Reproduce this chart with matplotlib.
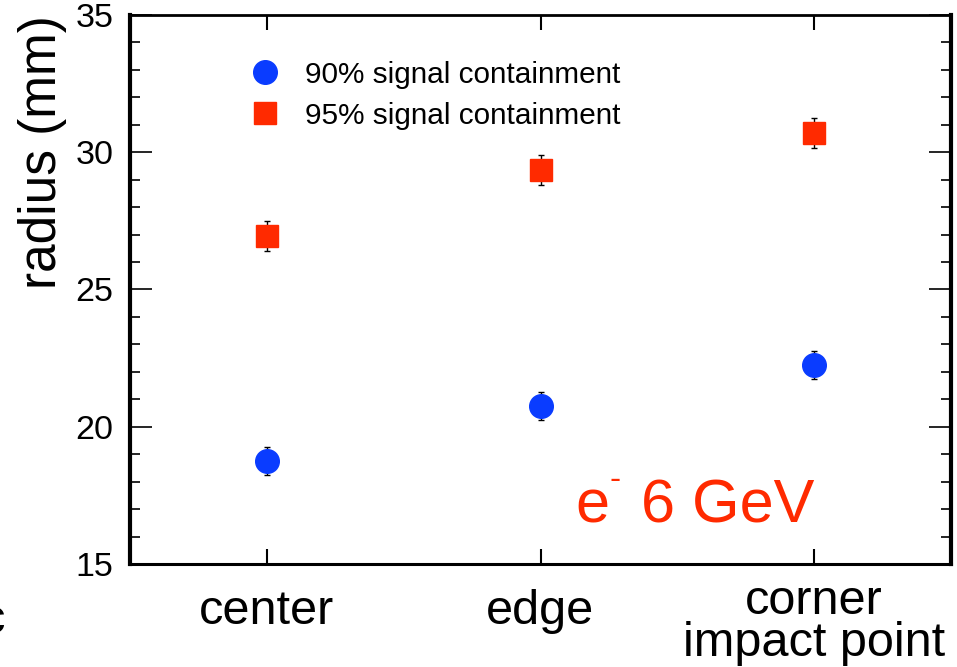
import matplotlib
matplotlib.use("Agg")
import matplotlib.pyplot as plt
from matplotlib.lines import Line2D
from matplotlib.ticker import MultipleLocator
from matplotlib.transforms import ScaledTranslation
import numpy as np

plt.rcParams['font.family'] = ['Liberation Sans', 'DejaVu Sans']

# impact positions and containment radii (mm)
positions = ["center", "edge", "corner\nimpact point"]
r90 = [18.75, 20.75, 22.25]
r90_err = [0.5, 0.5, 0.5]
r95 = [26.95, 29.35, 30.7]
r95_err = [0.55, 0.55, 0.55]
labels = ["90% signal containment", "95% signal containment"]

BLUE = "#0a3cff"
RED = "#ff2a00"

fig = plt.figure(figsize=(9.57, 6.67), dpi=100)
ax = fig.add_axes([130 / 957, 1 - 564 / 667, 821 / 957, 549 / 667])

x = np.arange(len(positions))
ax.errorbar(x, r90, yerr=r90_err, fmt='o', color=BLUE, ms=17, mec=BLUE,
            ecolor='black', elinewidth=1, capsize=2.5, capthick=1, zorder=3)
ax.errorbar(x, r95, yerr=r95_err, fmt='s', color=RED, ms=16, mec=RED,
            ecolor='black', elinewidth=1, capsize=2.5, capthick=1, zorder=3)

ax.set_xlim(-0.5, 2.5)
ax.set_ylim(15, 35)
ax.set_xticks(x)
ax.set_xticklabels(positions, fontsize=35, linespacing=0.9)
ax.yaxis.set_major_locator(MultipleLocator(5))
ax.yaxis.set_minor_locator(MultipleLocator(1))
ax.tick_params(axis='y', which='major', direction='in', length=16, width=1.2,
               labelsize=24.5, pad=12, left=True, right=True)
ax.tick_params(axis='y', which='minor', direction='in', length=7.5, width=1.2,
               left=True, right=True)
ax.tick_params(axis='x', which='major', direction='in', length=11, width=1.5,
               pad=18, top=True, bottom=True)

# two-line label sits a little higher than the single-line ones
lbl = ax.get_xticklabels()[-1]
lbl.set_transform(lbl.get_transform() + ScaledTranslation(0, 10 / 100, fig.dpi_scale_trans))

ax.spines['left'].set_linewidth(3)
ax.spines['right'].set_linewidth(3)
ax.spines['bottom'].set_linewidth(2.2)
ax.spines['top'].set_linewidth(2)

ax.set_ylabel("radius (mm)", fontsize=37, loc='top', labelpad=6)

# legend markers without error bars
handles = [Line2D([], [], marker='o', ls='none', ms=17, color=BLUE),
           Line2D([], [], marker='s', ls='none', ms=16, color=RED)]
ax.legend(handles, labels, loc='upper left', bbox_to_anchor=(0.146, 0.917),
          frameon=False, fontsize=21.4, handlelength=1.0, handletextpad=0.85,
          labelspacing=0.44, borderpad=0, borderaxespad=0)

# beam label with a small raised minus after the e
t = ax.text(0.5425, 0.075, "e", transform=ax.transAxes, color=RED, fontsize=44)
ax.annotate("-", xy=(1, 1), xycoords=t, xytext=(0, 10),
            textcoords='offset points', va='top', color=RED, fontsize=24)
ax.annotate("6 GeV", xy=(1, 0), xycoords=t, xytext=(23, 0),
            textcoords='offset points', va='bottom', color=RED, fontsize=44)

fig.text(-0.02, 0.051, "c", fontsize=35)

fig.savefig("out.png", dpi=100)
